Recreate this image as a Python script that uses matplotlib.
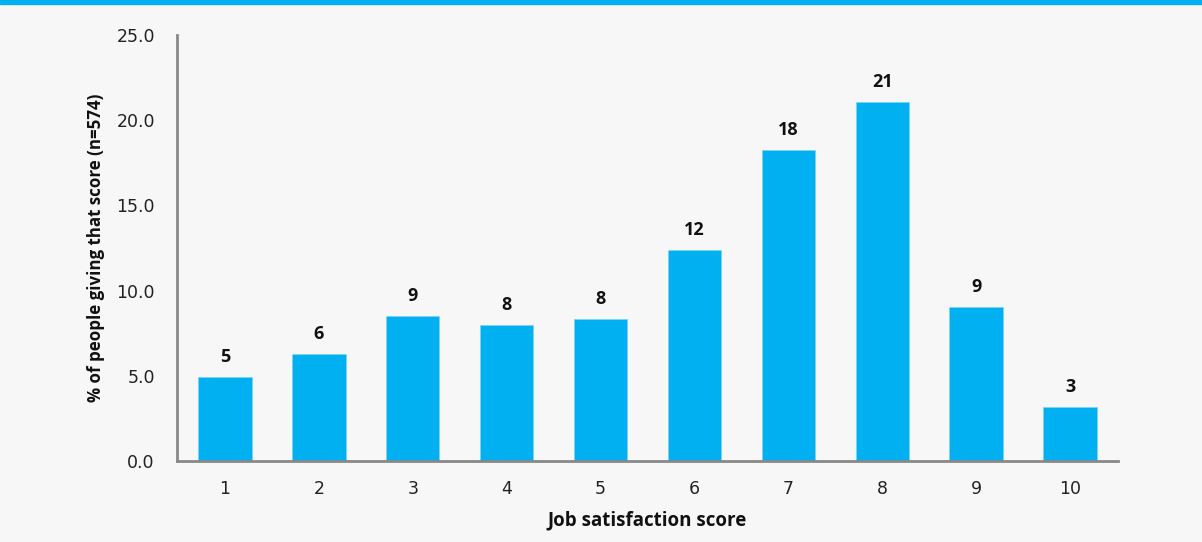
import numpy as np
import matplotlib
matplotlib.use("Agg")
import matplotlib.pyplot as plt

# data
scores = [1, 2, 3, 4, 5, 6, 7, 8, 9, 10]
percent = [4.93, 6.28, 8.5, 7.98, 8.33, 12.38, 18.25, 21.07, 9.04, 3.17]
labels = ["5", "6", "9", "8", "8", "12", "18", "21", "9", "3"]
yticks = [0, 5, 10, 15, 20, 25]

plt.rcParams['font.family'] = ['Open Sans', 'DejaVu Sans']

fig = plt.figure(figsize=(12.02, 5.42), dpi=100, facecolor='#f7f7f7')
# blue stripe along the top
fig.patches.append(plt.Rectangle((0, 1 - 4/542), 1, 4/542, transform=fig.transFigure,
                                 color='#00b0f0', zorder=0))

ax = fig.add_axes([177/1202, 1 - 461/542, (1118-177)/1202, (461-35)/542])
ax.set_facecolor('#f7f7f7')

bars = ax.bar(scores, percent, width=0.57, color='#00b0f0', edgecolor='#7fd3f5', linewidth=0.6)
for b, lab in zip(bars, labels):
    ax.annotate(lab, (b.get_x() + b.get_width()/2, b.get_height()), xytext=(0, 11),
                textcoords='offset points', ha='center', va='baseline',
                fontsize=13, fontweight='bold', color='#111111')

ax.set_xlim(0.49, 10.51)
ax.set_ylim(0, 25)
ax.set_xticks(scores)
ax.set_xticklabels([str(s) for s in scores], family='DejaVu Sans')
ax.set_yticks(yticks)
ax.set_yticklabels(["%.1f" % v for v in yticks], family='DejaVu Sans')
ax.tick_params(axis='both', length=0, labelsize=12.5, colors='#222222')
ax.tick_params(axis='x', pad=14)
ax.tick_params(axis='y', pad=16)

for s in ['top', 'right']:
    ax.spines[s].set_visible(False)
for s in ['left', 'bottom']:
    ax.spines[s].set_color('#888888')
    ax.spines[s].set_linewidth(2)

ax.set_xlabel('Job satisfaction score', fontsize=13.5, fontweight='bold', color='#111111', labelpad=9)
ax.set_ylabel('% of people giving that score (n=574)', fontsize=12.2, fontweight='bold',
              color='#111111', labelpad=8)

fig.savefig('out.png', dpi=100, facecolor=fig.get_facecolor())
